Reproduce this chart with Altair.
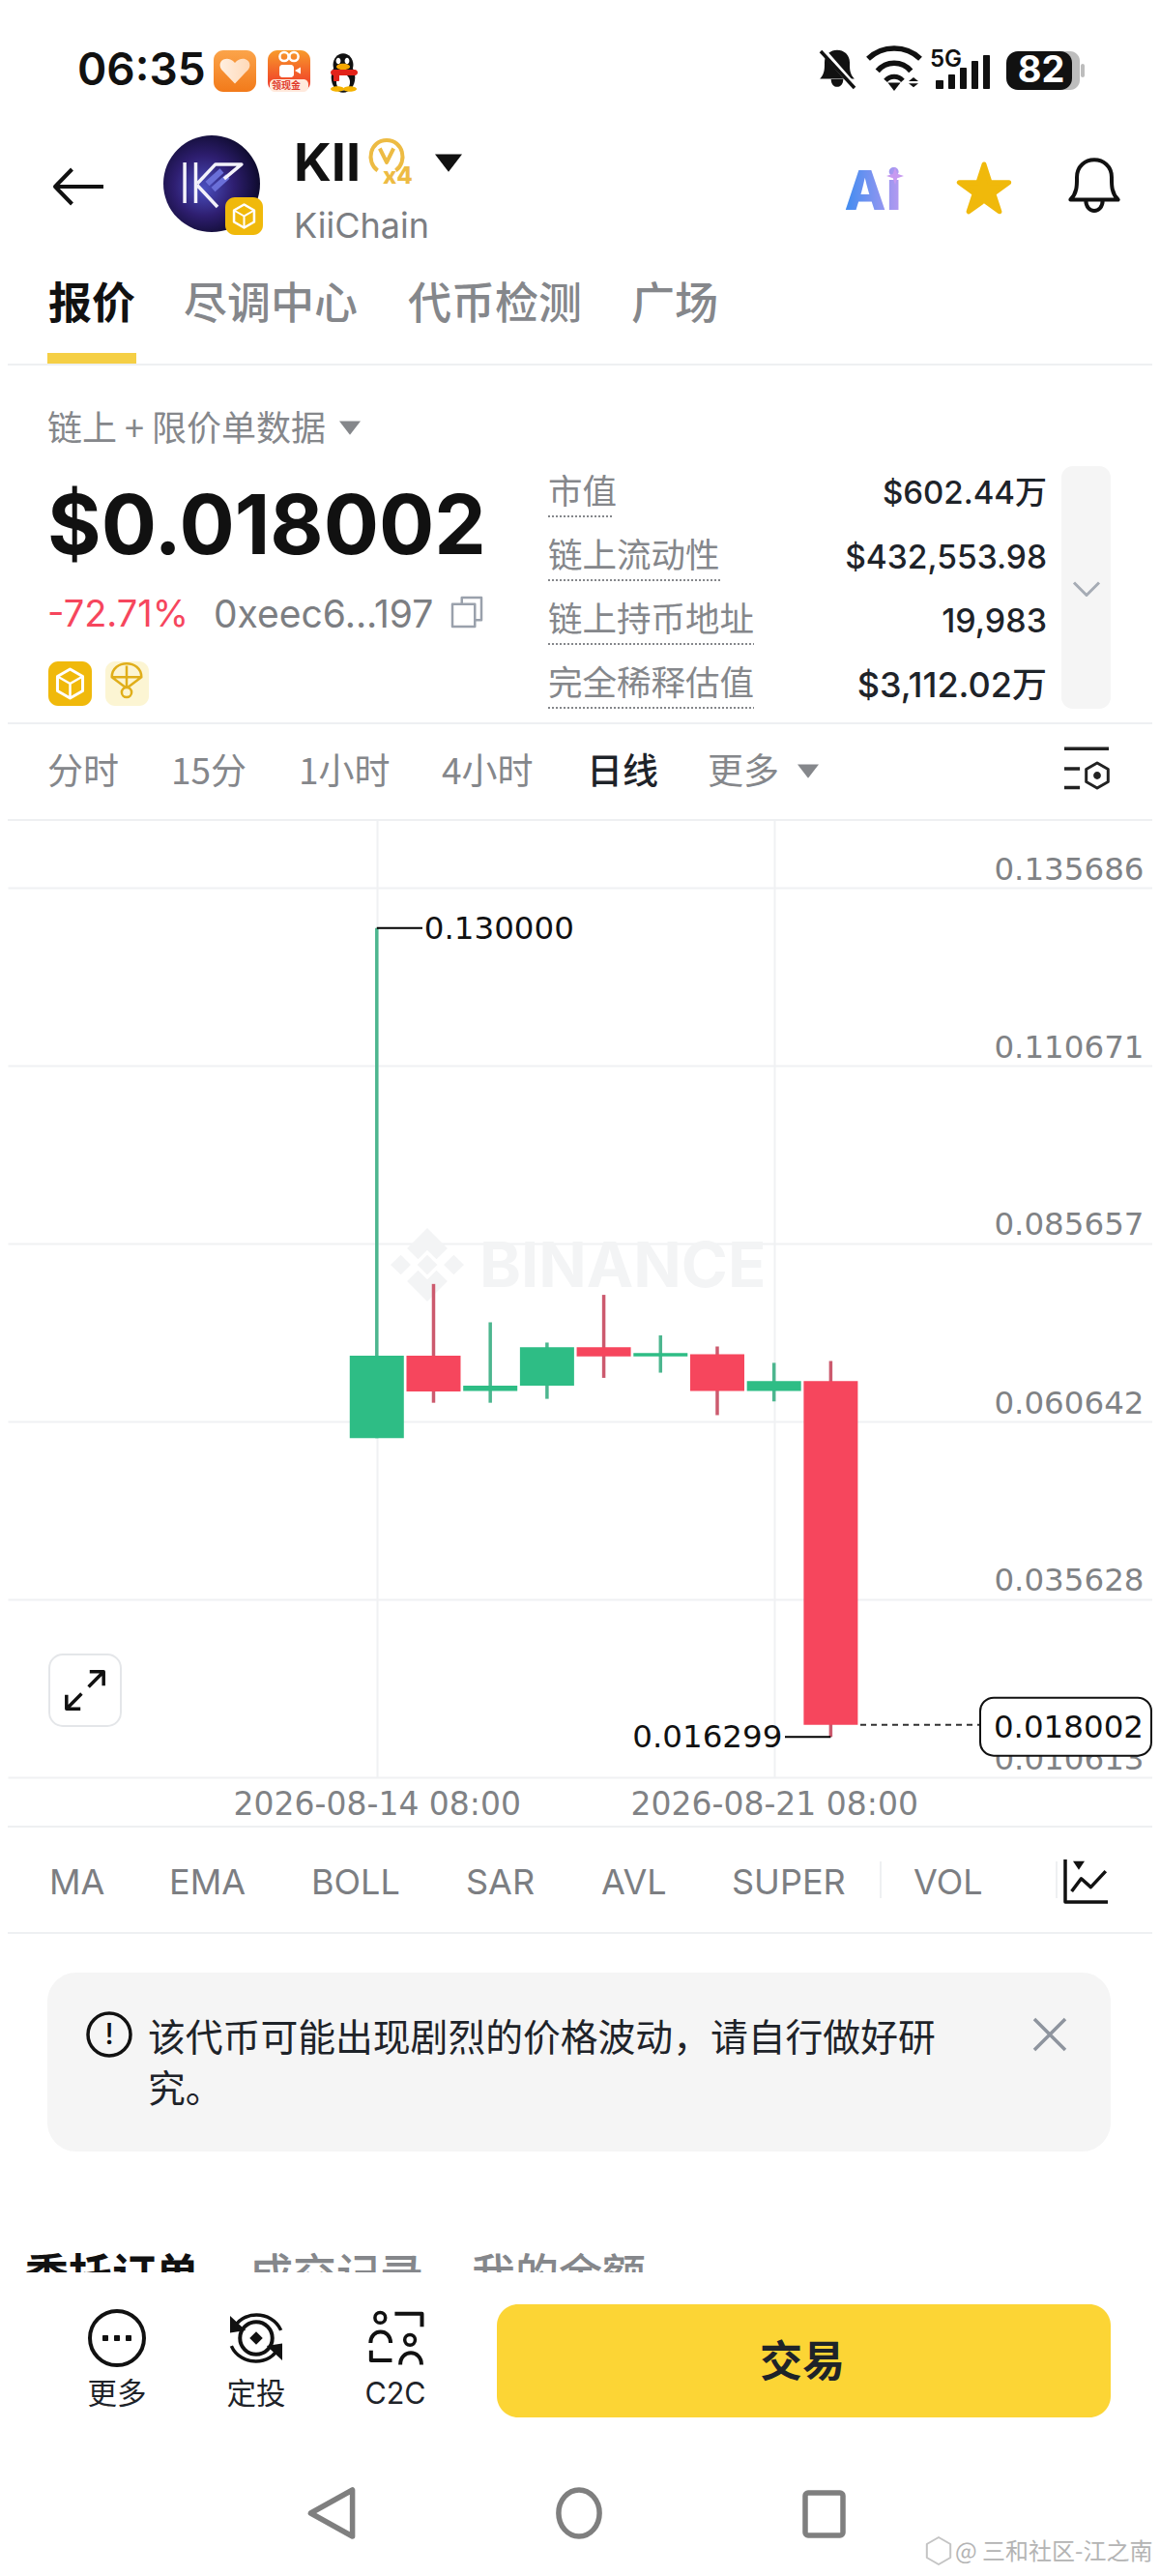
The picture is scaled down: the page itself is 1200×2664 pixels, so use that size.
import datetime as dt
import altair as alt
import pandas as pd

# ---------- chart values ----------
dates = ["2026-08-14T08:00:00Z", "2026-08-15T08:00:00Z", "2026-08-16T08:00:00Z",
         "2026-08-17T08:00:00Z", "2026-08-18T08:00:00Z", "2026-08-19T08:00:00Z",
         "2026-08-20T08:00:00Z", "2026-08-21T08:00:00Z", "2026-08-22T08:00:00Z"]
opens = [0.05831, 0.06989, 0.06493, 0.06566, 0.07109, 0.06980, 0.07008, 0.06493, 0.06631]
closes = [0.06989, 0.06484, 0.06566, 0.07109, 0.06980, 0.07026, 0.06493, 0.06631, 0.018002]
highs = [0.13000, 0.07997, 0.07458, 0.07173, 0.07844, 0.07274, 0.07118, 0.06888, 0.06915]
lows = [0.05831, 0.06327, 0.06327, 0.06382, 0.06677, 0.06750, 0.06153, 0.06346, 0.016299]
y_ticks = [0.135686, 0.110671, 0.085657, 0.060642, 0.035628, 0.010613]
x_tick_idx = [0, 7]
last_price = 0.018002

GREEN, RED = "#2EBD85", "#F6465D"
WICK_G, WICK_R = "#4DB68F", "#CC5A6E"
GREY = "#7C7E82"
LGREY = "#85878B"
AXC = "#808285"
DARK = "#1E2329"
LINE = "#EEF0F2"
GOLD = "#F0B90B"
FONT = "Inter, 'Noto Sans CJK SC', sans-serif"
CJK = "'Noto Sans CJK SC', Inter, sans-serif"
AXF = "DejaVu Sans"

df = pd.DataFrame({"date": dates, "open": opens, "close": closes, "high": highs, "low": lows})
df["dir"] = ["up" if c >= o else "down" for o, c in zip(opens, closes)]

# page is 1200x2664 with 8px margins; plot area occupies screen y 848..1838
PW, PH = 1184, 990
PAD_T = 840
DAY = 59.2
t0 = dt.datetime(2026, 8, 14, 8, tzinfo=dt.timezone.utc).timestamp() * 1000
MS = 86400000
X0 = 388
x_dom = [t0 - (X0 - 8) / DAY * MS, t0 + (1192 - X0) / DAY * MS]
y_top = 0.135686 + (918 - 848) * (0.135686 - 0.010613) / (1838 - 918)
y_dom = [0.010613, y_top]
xs = alt.Scale(type="utc", domain=x_dom)
ys = alt.Scale(domain=y_dom, nice=False, zero=False)
col = alt.Color("dir:N", scale=alt.Scale(domain=["up", "down"], range=[GREEN, RED]), legend=None)
x_ax = alt.Axis(values=[t0 + i * MS for i in x_tick_idx], labelExpr="utcFormat(datum.value, '%Y-%m-%d %H:%M')",
                grid=True, gridColor="#F0F1F3", gridWidth=2, domain=False, ticks=False, title=None,
                labelFont=AXF, labelFontSize=33, labelColor=AXC, labelPadding=28, labelBaseline="middle",
                labelOverlap=False, labelFlush=False, labelLimit=500)
y_ax = alt.Axis(values=y_ticks, format=".6f", orient="right", grid=True, gridColor="#F0F1F3", gridWidth=2,
                domain=False, ticks=False, title=None, labelFont=AXF, labelFontSize=32.5, labelColor=AXC,
                labelAlign="right", labelPadding=-9, labelOffset=-19, labelOverlap=False, labelBound=False,
                labelBaseline="middle")
X = alt.X("date:T", scale=xs, axis=x_ax)
Y_ = alt.Y("v:Q", scale=ys, axis=y_ax)


# ---------- drawing helpers (screen coordinates of app chrome) ----------
layers = []
base = pd.DataFrame({"a": [0]})


def px(v):
    return alt.value(v - 8)


def py(v):
    return alt.value(v - 848)


def text(s, x, y, size, color=DARK, align="left", weight=400, font=FONT, opacity=1):
    layers.append(alt.Chart(base).mark_text(text=s, fontSize=size, color=color, align=align, baseline="middle",
                                            fontWeight=weight, font=font, opacity=opacity)
                  .encode(x=px(x), y=py(y + size * 0.07)))


def rect(x0, y0, x1, y1, fill, r=0, stroke=None, sw=0):
    kw = dict(stroke=stroke, strokeWidth=sw) if stroke else {}
    layers.append(alt.Chart(base).mark_rect(fill=fill, cornerRadius=r, opacity=1, **kw)
                  .encode(x=px(x0), x2=px(x1), y=py(y0), y2=py(y1)))


def line(x0, y0, x1, y1, color, w=2, dash=None):
    kw = dict(strokeDash=dash) if dash else {}
    layers.append(alt.Chart(base).mark_rule(color=color, strokeWidth=w, opacity=1, **kw)
                  .encode(x=px(x0), x2=px(x1), y=py(y0), y2=py(y1)))


def icon(path, cx, cy, half, fill=None, stroke=None, sw=3):
    kw = dict(shape=path, size=(2 * half) ** 2, opacity=1, strokeJoin="round")
    if fill is not None:
        kw.update(filled=True, fill=fill, strokeWidth=0)
    else:
        kw.update(filled=False, stroke=stroke, strokeWidth=sw, fill="transparent")
    if fill is not None and stroke:
        kw.update(stroke=stroke, strokeWidth=sw)
    layers.append(alt.Chart(base).mark_point(**kw).encode(x=px(cx), y=py(cy)))


def ell(rx, ry, cx=0, cy=0):
    return (f"M{cx-rx},{cy} A{rx},{ry} 0 1,1 {cx+rx},{cy} A{rx},{ry} 0 1,1 {cx-rx},{cy} Z")


def lin(c0, c1, vertical=False):
    return alt.LinearGradient(gradient="linear", x1=0, y1=0, x2=0 if vertical else 1, y2=1 if vertical else 0,
                              stops=[alt.GradientStop(offset=0, color=c0), alt.GradientStop(offset=1, color=c1)])


HEX = "M0,-1 L0.87,-0.5 L0.87,0.5 L0,1 L-0.87,0.5 L-0.87,-0.5 Z"
HEXIN = "M-0.87,-0.5 L0,0 L0.87,-0.5 M0,0 L0,1"
DIAM = "M0,-0.45 L0.45,0 L0,0.45 L-0.45,0 Z"
TRI = "M-1,-0.6 L1,-0.6 L0,0.7 Z"
STAR = ("M0,-1 L0.225,-0.309 L0.951,-0.309 L0.363,0.118 L0.588,0.809 L0,0.382 "
        "L-0.588,0.809 L-0.363,0.118 L-0.951,-0.309 L-0.225,-0.309 Z")
BELL = ("M-0.85,0.5 C-0.6,0.25 -0.62,-0.05 -0.62,-0.3 C-0.62,-0.7 -0.32,-0.92 0,-0.92 "
        "C0.32,-0.92 0.62,-0.7 0.62,-0.3 C0.62,-0.05 0.6,0.25 0.85,0.5 Z "
        "M-0.3,0.52 C-0.3,1.02 0.3,1.02 0.3,0.52")
BINLOGO = ("M0,-1 L0.55,-0.45 L0.25,-0.15 L0,-0.4 L-0.25,-0.15 L-0.55,-0.45 Z "
           "M0,1 L0.55,0.45 L0.25,0.15 L0,0.4 L-0.25,0.15 L-0.55,0.45 Z "
           "M-0.72,-0.27 L-0.45,0 L-0.72,0.27 L-1,0 Z M0.72,-0.27 L1,0 L0.72,0.27 L0.45,0 Z "
           "M0,-0.27 L0.27,0 L0,0.27 L-0.27,0 Z")


# ---------- chart layers ----------
df_up, df_dn = df[df["dir"] == "up"], df[df["dir"] == "down"]
wick_up = alt.Chart(df_up).mark_rule(strokeWidth=3.5, color=WICK_G).encode(x=X, y=alt.Y("low:Q", scale=ys, axis=y_ax), y2="high:Q")
wick_dn = alt.Chart(df_dn).mark_rule(strokeWidth=3.5, color=WICK_R).encode(x=X, y=alt.Y("low:Q", scale=ys, axis=y_ax), y2="high:Q")
body = alt.Chart(df).mark_bar(size=56).encode(x=X, y=alt.Y("open:Q", scale=ys, axis=y_ax), y2="close:Q", color=col)

hi_i = highs.index(max(highs))
lo_i = lows.index(min(lows))
hi_df = pd.DataFrame({"date": [dates[hi_i]], "v": [highs[hi_i]], "s": [f"{highs[hi_i]:.6f}"]})
lo_df = pd.DataFrame({"date": [dates[lo_i]], "v": [lows[lo_i]], "s": [f"{lows[lo_i]:.6f}"]})
last_df = pd.DataFrame({"v": [last_price], "s": [f"{last_price:.6f}"]})

hi_rule = alt.Chart(hi_df).mark_rule(color="#000", strokeWidth=2).encode(x=X, x2=px(437), y=Y_)
hi_txt = alt.Chart(hi_df).mark_text(align="left", dx=49, dy=1, font=AXF, fontSize=32.5, color="#111").encode(x=X, y=Y_, text="s:N")
lo_rule = alt.Chart(lo_df).mark_rule(color="#000", strokeWidth=2).encode(x=X, x2=px(812), y=Y_)
lo_txt = alt.Chart(lo_df).mark_text(align="right", dx=-50, dy=1, font=AXF, fontSize=32.5, color="#111").encode(x=X, y=Y_, text="s:N")
last_rule = alt.Chart(last_df).mark_rule(color="#333", strokeWidth=2, strokeDash=[6, 5]).encode(x=px(890), x2=px(1014), y=Y_)
last_box = alt.Chart(last_df).mark_rect(height=60, fill="#fff", stroke="#111", strokeWidth=2, cornerRadius=14, opacity=1, yOffset=2).encode(
    x=px(1014), x2=px(1191), y=Y_)
last_txt = alt.Chart(last_df).mark_text(align="right", dy=3, font=AXF, fontSize=32.5, color="#111").encode(x=px(1183), y=Y_, text="s:N")

# watermark (under the candles)
icon(BINLOGO, 442, 1308, 38, fill="#F3F4F5")
text("BINANCE", 496, 1306, 65, "#F3F4F5", weight=700)
wm = layers
layers = []

# ---------- status bar ----------
text("06:35", 80, 71, 46, "#111", weight=600)
rect(221, 52, 265, 95, lin("#FBA44A", "#F27A1A", True), r=10)
icon("M0,0.85 L-0.85,-0.05 C-1.25,-0.6 -0.5,-1.1 0,-0.5 C0.5,-1.1 1.25,-0.6 0.85,-0.05 Z", 243, 73, 16, fill=lin("#FFEFE0", "#FFD9B8"))
rect(277, 52, 321, 95, lin("#F89B2A", "#EE2F2A", True), r=10)
icon(ell(0.38, 0.38, -0.42, -0.62) + " " + ell(0.38, 0.38, 0.42, -0.62), 299, 66, 12, stroke="#fff", sw=2.5)
rect(289, 67, 304, 80, "#fff", r=3)
icon("M-0.5,0 L0.5,-0.6 L0.5,0.6 Z", 308, 73, 6, fill="#fff")
rect(279, 82, 319, 95, "#FFE9DC", r=5)
text("领现金", 296, 88, 10, "#E03A2A", align="center", weight=700, font=CJK)
icon(ell(0.82, 1.05), 355, 80, 15, fill="#111")
icon(ell(0.55, 0.62), 355, 67, 19, fill="#111")
icon(ell(0.7, 0.85), 355, 85, 10, fill="#fff")
icon(ell(0.4, 0.55), 350, 63, 6, fill="#fff")
icon(ell(0.4, 0.55), 359, 63, 6, fill="#fff")
icon(ell(1, 0.45), 355, 69, 7, fill="#F6A800")
rect(342, 72, 370, 78, "#E2231A", r=3)
rect(345, 76, 351, 84, "#E2231A", r=1)
icon(ell(1, 0.4), 349, 92, 7, fill="#F5B301")
icon(ell(1, 0.4), 362, 92, 7, fill="#F5B301")

icon(BELL, 866, 71, 21, fill="#111")
line(851, 52, 886, 92, "#fff", 6)
line(849, 53, 884, 91, "#111", 3.5)
icon("M-1,-0.42 C-0.45,-0.95 0.45,-0.95 1,-0.42 M-0.64,0.05 C-0.3,-0.35 0.3,-0.35 0.64,0.05", 925, 72, 27, stroke="#111", sw=5.5)
icon("M-0.33,0.42 C-0.15,0.22 0.15,0.22 0.33,0.42", 925, 72, 27, stroke="#111", sw=5)
icon("M-0.55,-0.2 L0.55,-0.2 L0,0.5 Z", 925, 88, 12, fill="#111")
icon("M-1,-0.2 L0,-1 L1,-0.2 Z M-1,0.25 L0,1.05 L1,0.25 Z", 945, 85, 5, fill="#111")
text("5G", 962, 60, 24, "#111", weight=600)
for bx, bw, by in [(968, 8, 83), (981, 7, 77), (993, 7, 70), (1005, 7, 63), (1017, 7, 57)]:
    rect(bx, by, bx + bw, 92, "#111", r=1)
rect(1090, 53, 1117, 93, "#BDBDBD", r=10)
rect(1041, 53, 1109, 93, "#111", r=12)
text("82", 1077, 71, 38, "#fff", align="center", weight=700)
rect(1118, 66, 1122, 80, "#BDBDBD", r=2)

# ---------- header ----------
icon("M1,0 L-1,0 M-0.3,-0.72 L-1,0 L-0.3,0.72", 82, 193, 25, stroke="#111", sw=4)
grad = alt.RadialGradient(gradient="radial", r1=0, r2=0.62, x1=0.42, y1=0.55, x2=0.42, y2=0.5,
                          stops=[alt.GradientStop(offset=0, color="#4A4FC0"), alt.GradientStop(offset=0.5, color="#2E1E70"),
                                 alt.GradientStop(offset=1, color="#090823")])
layers.append(alt.Chart(base).mark_point(shape="circle", size=100 ** 2, filled=True, fill=grad, opacity=1, strokeWidth=0)
              .encode(x=px(219), y=py(190)))
icon("M-0.15,0 L0.35,-0.45 M0.05,0.2 L0.55,-0.25", 219, 190, 30, stroke="#6A6FD8", sw=6)
icon("M-0.93,-0.73 L-0.93,0.67 M-0.55,-0.73 L-0.55,0.67 M-0.5,0 L0.13,-0.67 L1.03,-0.67 L0.43,-0.17 M-0.5,0.05 L0.2,0.8",
     219, 190, 30, stroke="#F3F2FA", sw=3.5)
rect(233, 204, 272, 243, GOLD, r=10)
icon(HEX, 252.5, 223.5, 12, stroke="#fff", sw=2.5)
icon(HEXIN, 252.5, 223.5, 12, stroke="#fff", sw=2)
text("KII", 304, 167, 54, "#111", weight=700)
GOLD2 = "#EDBB43"
icon("M-0.55,0.85 C-1.3,0.3 -1,-1 0,-1 C1,-1 1.3,0.3 0.55,0.85", 400, 162, 17, stroke=GOLD2, sw=4)
icon("M-0.42,-0.5 L0,0.35 L0.42,-0.5", 400, 162, 17, stroke=GOLD2, sw=4)
text("x4", 396, 181, 24, GOLD2, weight=800)
icon(TRI, 464, 168, 14, fill="#111")
text("KiiChain", 304, 232, 36, GREY)

layers.append(alt.Chart(base).mark_text(text="Ai", fontSize=56, fontWeight=800, font=FONT, align="center", baseline="middle", fill=lin("#3F8CF0", "#B79AF0"))
              .encode(x=px(903), y=py(200)))
icon("M0,-1 L0.25,-0.25 L1,0 L0.25,0.25 L0,1 L-0.25,0.25 L-1,0 L-0.25,-0.25 Z", 926, 182, 9, fill="#C79AF0")
icon(STAR, 1018, 197, 27, fill=GOLD, stroke=GOLD, sw=5)
icon(BELL, 1132, 192, 29, stroke="#111", sw=4)

# ---------- tabs ----------
text("报价", 50, 313, 45, "#111", weight=700, font=CJK)
for s, x0 in [("尽调中心", 190), ("代币检测", 422), ("广场", 653)]:
    text(s, x0, 313, 45, LGREY, weight=500, font=CJK)
rect(49, 365, 141, 376, "#F5CF45")
rect(0, 376, 1200, 378, LINE)

# ---------- price block ----------
text("链上 + 限价单数据", 49, 442, 36, LGREY, font=CJK)
icon(TRI, 362, 442, 11, fill=LGREY)
text("$0.018002", 49, 541, 85, "#111", weight=700)
text("-72.71%", 49, 634, 38, RED)
text("0xeec6...197", 221, 634, 39, GREY)
icon("M-0.35,-0.55 L-0.35,-1 L1,-1 L1,0.55 L0.55,0.55 M-1,-0.55 L0.55,-0.55 L0.55,1 L-1,1 Z", 483, 633, 15, stroke="#9AA1AC", sw=2.5)
rect(50, 684, 95, 730, GOLD, r=10)
icon(HEX, 72.5, 707, 15, stroke="#fff", sw=3)
icon(HEXIN, 72.5, 707, 15, stroke="#fff", sw=2.5)
rect(109, 684, 154, 730, "#FCF5D3", r=10)
icon("M-0.9,-0.1 C-0.9,-1.2 0.9,-1.2 0.9,-0.1 Z M-0.9,-0.1 L-0.1,0.5 M0.9,-0.1 L0.1,0.5 M0,-0.8 L0,0.5", 131, 702, 17, stroke="#E0AE1A", sw=2.5)
icon(ell(0.3, 0.3), 131, 716, 17, stroke="#E0AE1A", sw=2.5)

stats = [("市值", 508, 534, 637, "$602.44万", 509, 33), ("链上流动性", 574, 600, 748, "$432,553.98", 576, 33.5),
         ("链上持币地址", 640, 666, 782, "19,983", 642, 34), ("完全稀释估值", 706, 732, 782, "$3,112.02万", 707, 36)]
for lab, ly, dy_, dx_, val, vy, vs in stats:
    text(lab, 567, ly, 35.5, LGREY, font=CJK)
    line(567, dy_, dx_ - 2, dy_, LGREY, 2, [2, 2])
    text(val, 1083, vy, vs, DARK, align="right", weight=500)
rect(1098, 482, 1149, 733, "#F5F5F5", r=12)
icon("M-1,-0.5 L0,0.5 L1,-0.5", 1124, 609, 13, stroke="#A6ACB5", sw=3)
rect(0, 747, 1200, 749, LINE)

# ---------- interval row ----------
for s, x0, c in [("分时", 49, LGREY), ("15分", 177, LGREY), ("1小时", 309, LGREY), ("4小时", 457, LGREY),
                 ("日线", 607, DARK), ("更多", 732, LGREY)]:
    text(s, x0, 797, 37, c, font=CJK, weight=500 if c == DARK else 400)
icon(TRI, 836, 797, 11, fill=LGREY)
icon("M-1,-0.9 L1,-0.9 M-1,0 L-0.3,0 M-1,0.85 L-0.3,0.85", 1124, 795, 23, stroke="#222", sw=3.5)
icon(HEX, 1135, 802, 13, stroke="#222", sw=3)
icon(ell(0.3, 0.3), 1135, 802, 13, fill="#222")
rect(0, 847, 1200, 849, LINE)

# ---------- expand button ----------
rect(51, 1711, 125, 1785, "#fff", r=14, stroke="#E4E6E9", sw=2)
icon("M-0.8,0.8 L-0.15,0.15 M0.15,-0.15 L0.8,-0.8 M0.2,-0.8 L0.8,-0.8 L0.8,-0.2 M-0.8,0.2 L-0.8,0.8 L-0.2,0.8", 88, 1748, 24, stroke="#111", sw=3.5)

# ---------- indicators ----------
rect(0, 1888, 1200, 1890, LINE)
for s, x0 in [("MA", 51), ("EMA", 175), ("BOLL", 322), ("SAR", 482), ("AVL", 622), ("SUPER", 757), ("VOL", 945)]:
    text(s, x0, 1945, 36, GREY)
rect(910, 1925, 912, 1963, LINE)
rect(1092, 1925, 1094, 1963, LINE)
icon("M-1,-1 L-1,1 L1,1 M-0.7,0.5 L-0.25,-0.1 L0.2,0.3 L0.9,-0.45", 1124, 1945, 22, stroke="#111", sw=3.5)
icon("M-1,-0.7 L1,-0.7 L0,0.8 Z", 1116, 1929, 6, fill="#111")
rect(0, 1998, 1200, 2000, LINE)

# ---------- notice ----------
rect(49, 2040, 1149, 2225, "#F5F5F5", r=30)
icon(ell(1, 1), 113, 2104, 22, stroke="#111", sw=3.5)
text("!", 113, 2103, 30, "#111", align="center", weight=500)
text("该代币可能出现剧烈的价格波动，请自行做好研", 153, 2106, 38.8, DARK, font=CJK)
text("究。", 153, 2159, 38.8, DARK, font=CJK)
icon("M-1,-1 L1,1 M1,-1 L-1,1", 1086, 2104, 16, stroke="#8E949E", sw=3.5)

# ---------- cut-off tabs ----------
text("委托订单", 26, 2352, 45, "#111", weight=700, font=CJK)
text("成交记录", 258, 2352, 45, LGREY, weight=500, font=CJK)
text("我的余额", 488, 2352, 45, LGREY, weight=500, font=CJK)
rect(0, 2350, 1200, 2664, "#fff")

# ---------- bottom bar ----------
icon(ell(1, 1), 121, 2418, 28, stroke="#111", sw=4)
for dx in [-12, 0, 12]:
    rect(121 + dx - 3, 2415, 121 + dx + 3, 2421, "#111", r=1)
text("更多", 121, 2475, 30.5, DARK, align="center", font=CJK)
icon(ell(0.62, 0.62), 265, 2418, 27, stroke="#111", sw=4)
icon("M-0.85,-0.35 C-0.6,-1.05 0.6,-1.1 0.95,-0.3 M0.85,0.35 C0.6,1.05 -0.6,1.1 -0.95,0.3", 265, 2418, 27, stroke="#111", sw=3.5)
icon("M-1,-0.85 L-1,-0.2 L-0.4,-0.3 Z M1,0.85 L1,0.2 L0.4,0.3 Z", 265, 2418, 27, fill="#111")
icon(DIAM, 265, 2418, 15, fill="#111")
text("定投", 265, 2475, 30.5, DARK, align="center", font=CJK)
icon("M-0.04,-0.95 L1,-0.95 L1,-0.45 M-0.97,0.17 C-0.97,-0.4 -0.2,-0.4 -0.2,0.17 M-0.95,0.45 L-0.95,0.83 L-0.15,0.83 "
     "M0.17,1 C0.17,0.4 0.98,0.4 0.98,1", 409.5, 2418.5, 27, stroke="#111", sw=4)
icon(ell(0.2, 0.2, -0.6, -0.8), 409.5, 2418.5, 27, stroke="#111", sw=3.5)
icon(ell(0.2, 0.2, 0.54, 0.05), 409.5, 2418.5, 27, stroke="#111", sw=3.5)
text("C2C", 409, 2475, 30.5, DARK, align="center")
rect(514, 2383, 1149, 2500, "#FCD535", r=22)
text("交易", 830, 2442, 44, DARK, align="center", weight=700, font=CJK)

# ---------- nav bar ----------
icon("M0.9,-1 L0.9,1 L-0.9,0 Z", 343, 2599, 24, stroke="#7F7F7F", sw=5.5)
icon(ell(0.88, 1), 599, 2599, 24, stroke="#7F7F7F", sw=5.5)
rect(833, 2578, 872, 2622, "#fff", r=3, stroke="#7F7F7F", sw=5.5)

# ---------- corner mark ----------
icon(HEX, 971, 2638, 14, stroke="#C4C4C4", sw=2)
text("@ 三和社区-江之南", 988, 2638, 24, "#B4B4B4", font=CJK)

chart = alt.layer(*wm, wick_up, wick_dn, body, hi_rule, hi_txt, lo_rule, lo_txt, last_rule, last_box, last_txt, *layers).properties(
    width=PW, height=PH,
    padding={"left": 0, "right": 0, "top": PAD_T, "bottom": 2648 - PAD_T - PH},
    autosize=alt.AutoSizeParams(type="none"),
    background="#ffffff",
).configure_view(stroke=None)
chart.save("out.html", embed_options={"renderer": "svg", "actions": False})
